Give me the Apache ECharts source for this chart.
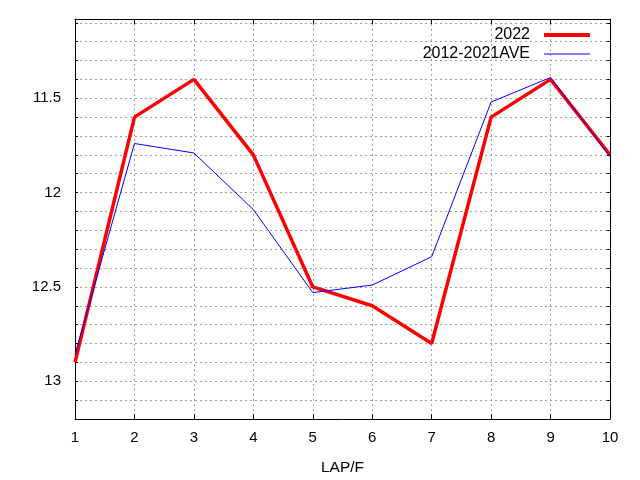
<!DOCTYPE html>
<html>
<head>
<meta charset="utf-8">
<script src="https://cdn.jsdelivr.net/npm/echarts@6/dist/echarts.min.js"></script>
<style>html,body{margin:0;padding:0;background:#fff}#c{width:640px;height:480px}</style>
</head>
<body>
<div id="c"></div>
<script>
var laps = [1, 2, 3, 4, 5, 6, 7, 8, 9, 10];
var series2022 = [12.90, 11.60, 11.40, 11.80, 12.50, 12.60, 12.80, 11.60, 11.40, 11.80];
var seriesAve = [12.86, 11.74, 11.79, 12.09, 12.53, 12.49, 12.34, 11.52, 11.39, 11.81];
var yMajorTicks = [11.5, 12, 12.5, 13];
var yGridTicks = [11.1, 11.2, 11.3, 11.4, 11.5, 11.6, 11.7, 11.8, 11.9, 12.0, 12.1, 12.2, 12.3, 12.4, 12.5, 12.6, 12.7, 12.8, 12.9, 13.0, 13.1];
var seriesNames = ['2022', '2012-2021AVE'];

var FONT = 'Liberation Sans';
var chart = echarts.init(document.getElementById('c'));
var gridLine = { show: true, lineStyle: { color: '#a0a0a0', type: [2, 3], width: 1 } };
function pair(arr) { return laps.map(function (x, i) { return [x, arr[i]]; }); }
var legendText = { fontFamily: FONT, fontSize: 16, color: '#000', padding: [0, 9, 0, 0] };

chart.setOption({
  animation: false,
  backgroundColor: '#fff',
  textStyle: { fontFamily: FONT },
  grid: { left: 75, right: 30, top: 19, bottom: 61, outerBoundsMode: 'none', containLabel: false },
  legend: [
    { data: [seriesNames[0]], right: 50, top: 27, padding: 0, align: 'right', icon: 'rect',
      itemWidth: 46, itemHeight: 4, textStyle: legendText },
    { data: [seriesNames[1]], right: 50, top: 46, padding: 0, align: 'right', icon: 'rect',
      itemWidth: 46, itemHeight: 1, textStyle: legendText }
  ],
  xAxis: [
    { type: 'value', min: 1, max: 10, interval: 1, position: 'bottom',
      name: 'LAP/F', nameLocation: 'middle', nameGap: 41,
      nameTextStyle: { fontFamily: FONT, fontSize: 15.5, color: '#000' },
      axisLine: { lineStyle: { color: '#000', width: 1 } },
      axisTick: { inside: true, length: 5, lineStyle: { color: '#000' } },
      axisLabel: { fontFamily: FONT, fontSize: 15, color: '#000', margin: 11 },
      splitLine: gridLine },
    { type: 'value', min: 1, max: 10, interval: 1, position: 'top',
      axisLine: { lineStyle: { color: '#000', width: 1 } },
      axisTick: { inside: true, length: 5, lineStyle: { color: '#000' } },
      axisLabel: { show: false }, splitLine: { show: false } }
  ],
  yAxis: [
    { type: 'value', inverse: true, min: 11.08, max: 13.2, position: 'left',
      axisLine: { show: true, lineStyle: { color: '#000', width: 1 } },
      axisTick: { show: true, inside: true, length: 3, customValues: yGridTicks, lineStyle: { color: '#000' } },
      axisLabel: { fontFamily: FONT, fontSize: 15, color: '#000', margin: 14, customValues: yMajorTicks,
        formatter: function (v) { return String(+v.toFixed(2)); } },
      splitLine: gridLine },
    { type: 'value', inverse: true, min: 11.08, max: 13.2, position: 'right',
      axisLine: { show: true, lineStyle: { color: '#000', width: 1 } },
      axisTick: { show: true, inside: true, length: 3, customValues: yGridTicks, lineStyle: { color: '#000' } },
      axisLabel: { show: false }, splitLine: { show: false } }
  ],
  series: [
    { name: seriesNames[1], type: 'line', data: pair(seriesAve), symbol: 'none', z: 3,
      lineStyle: { color: '#0000ff', width: 1 }, itemStyle: { color: '#0000ff' } },
    { name: seriesNames[0], type: 'line', data: pair(series2022), symbol: 'none', z: 2,
      lineStyle: { color: '#ff0000', width: 3.5 }, itemStyle: { color: '#ff0000' } }
  ]
});
</script>
</body>
</html>
